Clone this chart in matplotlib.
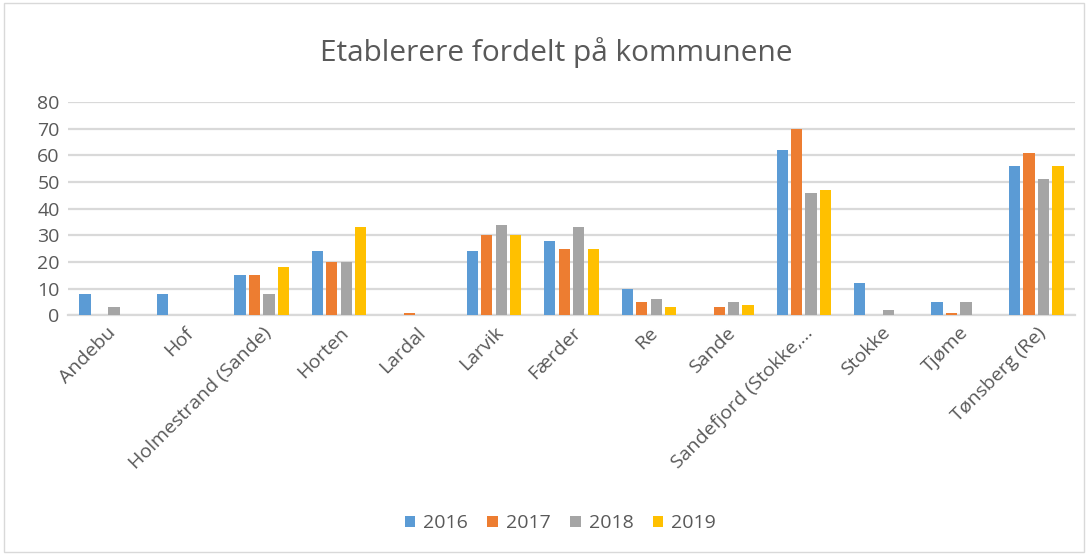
import numpy as np
import matplotlib.pyplot as plt
from matplotlib.patches import Rectangle

kommuner = ['Andebu', 'Hof', 'Holmestrand (Sande)', 'Horten', 'Lardal', 'Larvik',
            'Færder', 'Re', 'Sande', 'Sandefjord (Stokke,...', 'Stokke', 'Tjøme',
            'Tønsberg (Re)']
years = ['2016', '2017', '2018', '2019']
v2016 = [8, 8, 15, 24, 0, 24, 28, 10, 0, 62, 12, 5, 56]
v2017 = [0, 0, 15, 20, 1, 30, 25, 5, 3, 70, 0, 1, 61]
v2018 = [3, 0, 8, 20, 0, 34, 33, 6, 5, 46, 2, 5, 51]
v2019 = [0, 0, 18, 33, 0, 30, 25, 3, 4, 47, 0, 0, 56]
colors = ['#5b9bd5', '#ed7d31', '#a5a5a5', '#ffc000']

plt.rcParams['font.family'] = ['Open Sans', 'DejaVu Sans']
text_col = '#595959'

fig = plt.figure(figsize=(10.88, 5.55), dpi=100)
fig.patches.append(Rectangle((0.004, 0.005), 0.992, 0.99, transform=fig.transFigure,
                             fill=False, edgecolor='#d9d9d9', linewidth=1))
ax = fig.add_axes([0.0625, 0.432, 0.9255, 0.384])

x = np.arange(len(kommuner))
w = 0.145
step = 0.187
for i, (vals, yr) in enumerate(zip([v2016, v2017, v2018, v2019], years)):
    ax.bar(x + (i - 1.5) * step, vals, width=w, color=colors[i], label=yr, zorder=3)

ax.set_xlim(-0.5, len(kommuner) - 0.5)
ax.set_ylim(0, 80)
ax.set_yticks(range(0, 81, 10))
ax.yaxis.grid(True, color='#d9d9d9', linewidth=1.6, zorder=0)
for s in ax.spines.values():
    s.set_visible(False)
ax.spines['bottom'].set_visible(True)
ax.spines['bottom'].set_color('#d9d9d9')
ax.spines['bottom'].set_linewidth(1.6)
ax.tick_params(length=0, labelsize=14, colors=text_col, pad=6)
ax.set_xticks(x)
ax.set_xticklabels(kommuner, rotation=45, ha='right', rotation_mode='anchor')

fig.text(0.511, 0.905, 'Etablerere fordelt på kommunene', ha='center', va='center',
         fontsize=21.5, color=text_col)

fig.legend(loc='center', bbox_to_anchor=(0.515, 0.057), ncol=4, frameon=False,
           fontsize=14, labelcolor=text_col, handlelength=0.55, handleheight=0.55,
           handletextpad=0.4, columnspacing=1.0)

fig.savefig('out.png', dpi=100)
